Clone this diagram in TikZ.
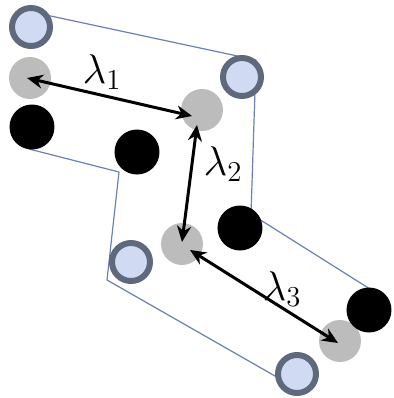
\documentclass[tikz,border=0pt]{standalone}
\usepackage{xcolor}
\usepackage{amsmath}
\usepackage{tikz}
\usetikzlibrary{arrows.meta, calc}
\definecolor{myring}{RGB}{95,105,125}
\definecolor{mylight}{RGB}{208,218,242}
\definecolor{mygray}{RGB}{188,188,188}
\definecolor{myline}{RGB}{105,128,185}
\tikzset{
  ringdot/.style={circle, draw=myring, fill=mylight, line width=3pt,
    minimum size=19pt, inner sep=0pt},
  graydot/.style={circle, fill=mygray, minimum size=21pt, inner sep=0pt},
  blackdot/.style={circle, fill=black, minimum size=22.5pt, inner sep=0pt},
  outline/.style={line width=0.6pt, color=myline, line join=round},
  arrow/.style={{Stealth[length=8pt,width=7pt]}-{Stealth[length=8pt,width=7pt]},
    line width=1.5pt, color=black},
  lbl/.style={font=\fontsize{22}{26}\selectfont, inner sep=0pt}
}
\begin{document}
\begin{tikzpicture}[x=0.5pt, y=-0.5pt]
  \useasboundingbox (0,0) rectangle (393,398);
  % corners of the outline
  \coordinate (ca) at (32,12);
  \coordinate (cb) at (256,60);
  \coordinate (cc) at (251,214);
  \coordinate (cd) at (370,289);
  \coordinate (ce) at (296,388);
  \coordinate (cf) at (107,280);
  \coordinate (cg) at (119,172);
  \coordinate (ch) at (29,149);
  \draw[outline] (ca) -- (cb) -- (cc) -- (cd);
  \draw[outline] (ce) -- (cf) -- (cg) -- (ch);

  % dots
  \node[ringdot] (b1) at (31,27) {};
  \node[ringdot] (b2) at (242,77) {};
  \node[ringdot] (b3) at (131,262) {};
  \node[ringdot] (b4) at (297,374) {};
  \node[graydot] (g1) at (30,78) {};
  \node[graydot] (g2) at (202,110) {};
  \node[graydot] (g3) at (182,244) {};
  \node[graydot] (g4) at (340,341) {};
  \node[blackdot] (k1) at (32,127) {};
  \node[blackdot] (k2) at (137,152) {};
  \node[blackdot] (k3) at (240,228) {};
  \node[blackdot] (k4) at (369,310) {};

  % distances
  \draw[arrow] ($(g1)+(-3,0)$) -- ($(g2)+(-10,6)$);
  \draw[arrow] ($(g2)+(-5,15)$) -- ($(g3)+(0,-2)$);
  \draw[arrow] ($(g3)+(8,6)$) -- ($(g4)+(-2,2)$);
  \node[lbl] (l1) at (102,72) {$\lambda_1$};
  \node[lbl] (l2) at (223,164) {$\lambda_2$};
  \node[lbl] (l3) at (282,289) {$\lambda_3$};
\end{tikzpicture}
\end{document}
